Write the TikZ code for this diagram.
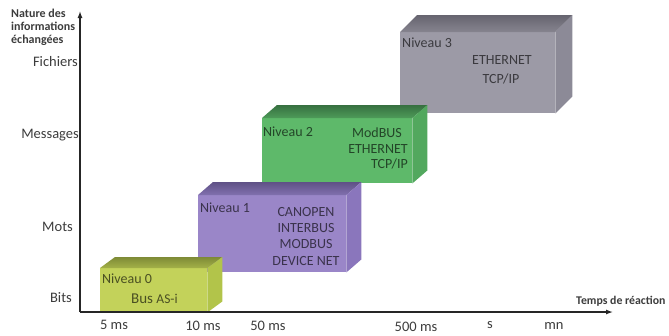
\documentclass[tikz,border=0pt]{standalone}
\usepackage{fontspec}
\setmainfont{Carlito}
\usetikzlibrary{arrows.meta}
\definecolor{txt}{HTML}{3C3C3C}
\definecolor{fa}{HTML}{C3D25A}\definecolor{ta}{HTML}{7E8A36}\definecolor{tal}{HTML}{A3B148}\definecolor{sa}{HTML}{B2C44A}
\definecolor{fb}{HTML}{9A86C8}\definecolor{tb}{HTML}{5F5186}\definecolor{tbl}{HTML}{8170AE}\definecolor{sb}{HTML}{8A76BC}
\definecolor{fc}{HTML}{5EB96A}\definecolor{tc}{HTML}{367040}\definecolor{tcl}{HTML}{4E9A59}\definecolor{sc}{HTML}{52A85E}
\definecolor{fd}{HTML}{9C9AA6}\definecolor{td}{HTML}{66646F}\definecolor{tdl}{HTML}{86848F}\definecolor{sd}{HTML}{8C8A97}
\tikzset{
  front/.style={rectangle, inner sep=0pt, anchor=north west},
  axislbl/.style={text=txt, font=\fontsize{14.5}{16}\selectfont},
  boxtxt/.style={text=black, text opacity=0.62, font=\fontsize{14}{16}\selectfont, align=center, inner sep=0pt},
  axisline/.style={line width=1.3pt, draw=black!85, -{Latex[length=7pt,width=5pt]}},
}
\newcommand{\boxfaces}[6]{% name, dx, dy(up), topdark, toplight, sidecol
  \shade[top color=#4, bottom color=#5] (#1.north west) -- ++(#2,-#3) -- ([shift={(#2,-#3)}]#1.north east) -- (#1.north east) -- cycle;
  \fill[#6] (#1.north east) -- ++(#2,-#3) -- ([shift={(#2,-#3)}]#1.south east) -- (#1.south east) -- cycle;
}
\begin{document}
\begin{tikzpicture}[x=1pt,y=-1pt]
\useasboundingbox (0,0) rectangle (669,335);
% Niveau 3
\node[front, fill=fd, minimum width=155pt, minimum height=81pt] (b3) at (400,32) {};
\boxfaces{b3}{17}{17}{td}{tdl}{sd}
\node[boxtxt, anchor=west] (n3) at (402,43) {Niveau 3};
\node[boxtxt] (p3a) at (502,60) {ETHERNET};
\node[boxtxt] (p3b) at (501,79) {TCP/IP};
% Niveau 2
\node[front, fill=fc, minimum width=150pt, minimum height=65pt] (b2) at (262,118) {};
\boxfaces{b2}{15}{13}{tc}{tcl}{sc}
\node[boxtxt, anchor=west] (n2) at (263,132) {Niveau 2};
\node[boxtxt, anchor=east] (p2a) at (402,133) {ModBUS};
\node[boxtxt, anchor=east] (p2b) at (408,149) {ETHERNET};
\node[boxtxt, anchor=east] (p2c) at (408,164) {TCP/IP};
% Niveau 1
\node[front, fill=fb, minimum width=148pt, minimum height=77pt] (b1) at (198,195) {};
\boxfaces{b1}{15}{13}{tb}{tbl}{sb}
\node[boxtxt, anchor=west] (n1) at (200,208) {Niveau 1};
\node[boxtxt] (p1a) at (306,212) {CANOPEN};
\node[boxtxt] (p1b) at (306,228) {INTERBUS};
\node[boxtxt] (p1c) at (306,244) {MODBUS};
\node[boxtxt] (p1d) at (306,261) {DEVICE NET};
% Niveau 0
\node[front, fill=fa, minimum width=107pt, minimum height=44pt] (b0) at (100,268) {};
\boxfaces{b0}{15}{11}{ta}{tal}{sa}
\node[boxtxt, anchor=west] (n0) at (102,279) {Niveau 0};
\node[boxtxt, anchor=west, font=\fontsize{15}{16}\selectfont] (p0) at (131,299) {Bus {\fontsize{13.5}{14}\selectfont AS-i}};
% axes
\coordinate (o) at (80,312);
\coordinate (ytop) at (80,11);
\coordinate (xend) at (613,312);
\draw[axisline] (o) -- (ytop);
\draw[axisline] (o) -- (xend);
\node[text=txt, font=\bfseries\fontsize{12}{13}\selectfont, align=left, anchor=north west, inner sep=0pt] (ylab) at (11,9) {Nature des\\informations\\échangées};
\node[font=\bfseries\fontsize{11.8}{13}\selectfont, text=txt, anchor=west, inner sep=0pt] (xlab) at (576,301) {Temps de réaction};
\node[axislbl, anchor=east, inner sep=0pt] (yf) at (78,62) {Fichiers};
\node[axislbl, anchor=east, inner sep=0pt] (ym) at (79,135) {Messages};
\node[axislbl, anchor=east, inner sep=0pt] (yw) at (73,227) {Mots};
\node[axislbl, anchor=east, inner sep=0pt] (yb) at (72,298) {Bits};
\node[axislbl] (x1) at (114,325) {5 ms};
\node[axislbl] (x2) at (203,326) {10 ms};
\node[axislbl] (x3) at (268,326) {50 ms};
\node[axislbl] (x4) at (416,327) {500 ms};
\node[axislbl] (x5) at (490,325) {s};
\node[axislbl] (x6) at (554,326) {mn};
\end{tikzpicture}
\end{document}
